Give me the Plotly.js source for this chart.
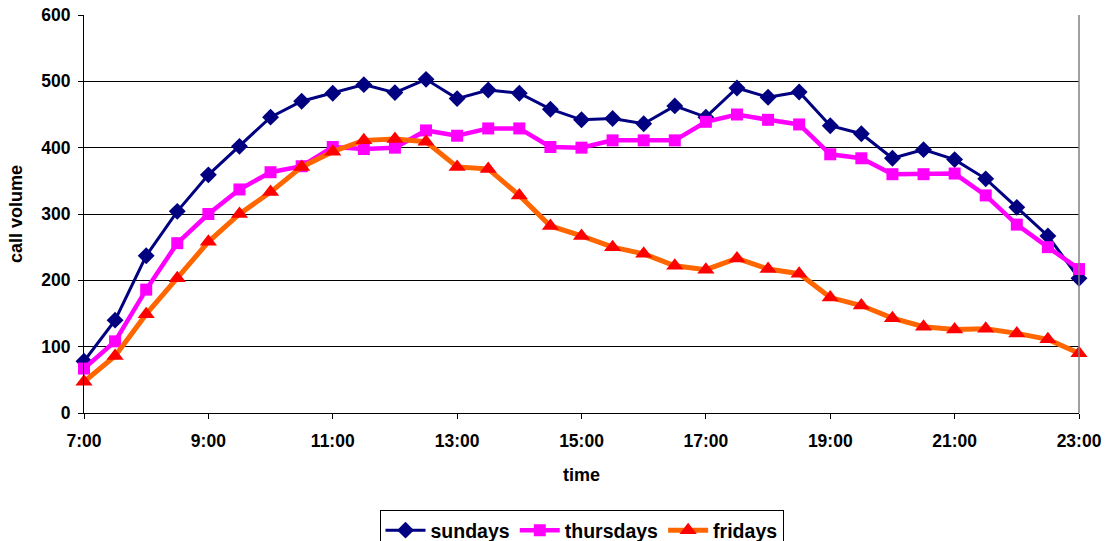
<!DOCTYPE html>
<html>
<head>
<meta charset="utf-8">
<script src="https://cdn.plot.ly/plotly-3.0.1.min.js"></script>
<style>html,body{margin:0;padding:0;background:#fff;}#chart{width:1107px;height:541px;}</style>
</head>
<body>
<div id="chart"></div>
<script>
const times = ["7:00","7:30","8:00","8:30","9:00","9:30","10:00","10:30","11:00","11:30","12:00","12:30","13:00","13:30","14:00","14:30","15:00","15:30","16:00","16:30","17:00","17:30","18:00","18:30","19:00","19:30","20:00","20:30","21:00","21:30","22:00","22:30","23:00"];
const tickLabels = ["7:00","9:00","11:00","13:00","15:00","17:00","19:00","21:00","23:00"];
const sundays = [78,140,237,304,359,402,446,470,482,495,483,503,474,487,482,458,442,444,436,463,446,490,476,484,433,421,384,397,382,353,310,267,203];
const thursdays = [67,108,186,256,300,337,363,372,401,398,400,426,418,429,429,401,400,411,411,411,439,450,442,435,390,384,360,360,361,328,284,250,217];
const fridays = [47,86,149,203,258,300,333,371,394,411,413,409,371,368,328,282,267,250,240,222,216,233,217,210,174,162,143,130,126,127,120,111,90];

const fam = "Liberation Sans, Arial, sans-serif";
const font = {family: fam, color: "#000", size: 17.5, weight: 700};

const traces = [
  {name: "sundays", x: times, y: sundays, type: "scatter", mode: "lines+markers", cliponaxis: false,
   line: {color: "#000080", width: 3}, marker: {symbol: "diamond", size: 13, color: "#000080"}},
  {name: "thursdays", x: times, y: thursdays, type: "scatter", mode: "lines+markers", cliponaxis: false,
   line: {color: "#FF00FF", width: 4.5}, marker: {symbol: "square", size: 12, color: "#FF00FF"}},
  {name: "fridays", x: times, y: fridays, type: "scatter", mode: "lines+markers", cliponaxis: false,
   line: {color: "#FF6600", width: 5}, marker: {symbol: "triangle-up", size: 15, color: "#FF0000"}}
];

const layout = {
  width: 1107, height: 541,
  margin: {l: 84, r: 28, t: 15, b: 128, autoexpand: false},
  paper_bgcolor: "#fff", plot_bgcolor: "#fff",
  font: font,
  showlegend: true,
  legend: {orientation: "h", xref: "paper", x: 0.5, xanchor: "center", yref: "container", y: 1 - 510/541, yanchor: "top",
           bordercolor: "#000", borderwidth: 1, font: {family: fam, size: 19.5, weight: 700, color: "#000"},
           itemwidth: 40, tracegroupgap: 0},
  xaxis: {type: "category", range: [0, times.length - 1], tickmode: "array", tickvals: tickLabels, ticktext: tickLabels,
          automargin: false, ticklabelstandoff: 7,
          showline: true, linecolor: "#000", linewidth: 1, ticks: "outside", ticklen: 5, tickcolor: "#000",
          showgrid: false, zeroline: false, tickfont: {family: fam, size: 17.5, weight: 700},
          title: {text: "time", font: {family: fam, size: 18, weight: 700}, standoff: 18}},
  yaxis: {range: [0, 600], dtick: 100, tick0: 0, showline: true, linecolor: "#000", linewidth: 1,
          automargin: false, ticklabelstandoff: 4,
          ticks: "outside", ticklen: 5, tickcolor: "#000", showgrid: true, gridcolor: "#000", gridwidth: 1,
          zeroline: false, tickfont: {family: fam, size: 17.5, weight: 700},
          title: {text: "call volume", font: {family: fam, size: 18, weight: 700}, standoff: 13}},
  shapes: [{type: "line", xref: "paper", yref: "paper", x0: 1, x1: 1, y0: 0, y1: 1, line: {color: "#808080", width: 1.5}}]
};

Plotly.newPlot("chart", traces, layout, {displayModeBar: false, staticPlot: true});
</script>
</body>
</html>
